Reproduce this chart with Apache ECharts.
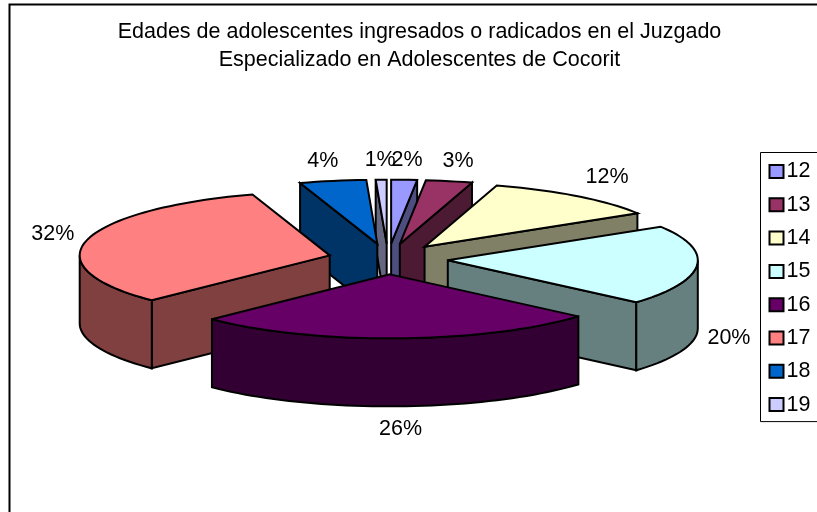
<!DOCTYPE html>
<html>
<head>
<meta charset="utf-8">
<style>html,body{margin:0;padding:0;background:#fff}#c{width:817px;height:512px}</style>
<script src="https://cdn.jsdelivr.net/npm/echarts@6/dist/echarts.min.js"></script>
</head>
<body>
<div id="c"></div>
<script>
var titleLines = ['Edades de adolescentes ingresados o radicados en el Juzgado', 'Especializado en Adolescentes de Cocorit'];
var categories = ['12', '13', '14', '15', '16', '17', '18', '19'];
var values = [1.66, 3, 11.55, 20.2, 26.2, 32.4, 4.3, 0.7];

var topColors = ['#9999FF', '#993366', '#FFFFCC', '#CCFFFF', '#660066', '#FF8080', '#0066CC', '#CCCCFF'];
var sideColors = ['#4D4D80', '#4D1A33', '#808066', '#668080', '#330033', '#804040', '#003366', '#666680'];

// layout of the tilted, exploded pie
var pie = { cx: 388, cy: 259, rx: 250, ry: 64, depth: 68, explode: 0.24 };
// label nudges away from each slice's rim midpoint
var labelNudge = [[3, -20], [9, -20], [30, -19], [32, 5], [3, 23], [-34, -6], [-10, -20], [-1, -20]];
var FONT = '"Liberation Sans", Arial, sans-serif';
var TEXT_SIZE = 21.5;

var total = values.reduce(function (a, b) { return a + b; }, 0);
var starts = [];
values.reduce(function (acc, v, i) { starts[i] = acc; return acc + v; }, 0);
function deg(v) { return v / total * 360; }
function rad(d) { return d * Math.PI / 180; }

function arcPts(ax, ay, a0, a1, dy) {
  var n = Math.max(2, Math.ceil((a1 - a0) / 2)), pts = [];
  for (var i = 0; i <= n; i++) {
    var a = rad(a0 + (a1 - a0) * i / n);
    pts.push([ax + pie.rx * Math.sin(a), ay - pie.ry * Math.cos(a) + dy]);
  }
  return pts;
}
function face(points, fill) {
  return { type: 'polygon', shape: { points: points },
    style: { fill: fill, stroke: '#000', lineWidth: 2, lineJoin: 'miter', miterLimit: 4 } };
}
function sliceGroup(i) {
  var a0 = deg(starts[i]), a1 = deg(starts[i] + values[i]), mid = rad((a0 + a1) / 2);
  var ax = pie.cx + pie.explode * pie.rx * Math.sin(mid);
  var ay = pie.cy - pie.explode * pie.ry * Math.cos(mid);
  var d = pie.depth, kids = [];
  function radial(a) {
    var p = arcPts(ax, ay, a, a, 0)[0];
    kids.push(face([[ax, ay], p, [p[0], p[1] + d], [ax, ay + d]], sideColors[i]));
  }
  if (Math.sin(rad(a0)) < -1e-6) radial(a0);
  if (Math.sin(rad(a1)) > 1e-6) radial(a1);
  var f0 = Math.max(a0, 90), f1 = Math.min(a1, 270);
  if (f1 > f0) {
    kids.push(face(arcPts(ax, ay, f0, f1, 0).concat(arcPts(ax, ay, f0, f1, d).reverse()), sideColors[i]));
  }
  kids.push(face([[ax, ay]].concat(arcPts(ax, ay, a0, a1, 0)), topColors[i]));
  var cm = Math.cos(mid);
  var lx = ax + pie.rx * Math.sin(mid) + labelNudge[i][0];
  var ly = ay - pie.ry * cm + (cm < 0 ? d : 0) + labelNudge[i][1];
  kids.push({ type: 'text', z2: 100, style: {
    x: lx, y: ly, text: Math.round(values[i] / total * 100) + '%', fill: '#000', align: 'center', verticalAlign: 'middle',
    font: TEXT_SIZE + 'px ' + FONT } });
  return { type: 'group', children: kids };
}

// paint order: farthest slice first
var order = categories.map(function (_, i) { return i; }).sort(function (p, q) {
  return Math.cos(rad(deg(starts[q] + values[q] / 2))) - Math.cos(rad(deg(starts[p] + values[p] / 2)));
});

var series = categories.map(function (name, i) {
  return {
    type: 'custom', name: name, coordinateSystem: 'none', silent: true,
    animation: false,
    itemStyle: { color: topColors[i] },
    data: [values[i]],
    renderItem: function () { return sliceGroup(i); }
  };
});
// series are created in paint order so later ones lie on top
var seriesOrdered = order.map(function (i) { return series[i]; });

var chart = echarts.init(document.getElementById('c'), null, { renderer: 'canvas' });
chart.setOption({
  animation: false,
  backgroundColor: '#fff',
  title: {
    text: titleLines.join('\n'), left: 414.5, top: 13.5, textAlign: 'center',
    textStyle: { fontFamily: FONT, fontSize: TEXT_SIZE, fontWeight: 'normal', color: '#000', lineHeight: 28 }
  },
  legend: {
    orient: 'vertical', left: 760.5, top: 152.5, data: categories, selectedMode: false,
    icon: 'rect', itemWidth: 14, itemHeight: 13, itemGap: 11.3,
    padding: [8, 60, 6, 8],
    backgroundColor: '#fff', borderColor: '#000', borderWidth: 1,
    itemStyle: { borderColor: '#000', borderWidth: 2 },
    textStyle: { fontFamily: FONT, fontSize: TEXT_SIZE, color: '#000', padding: [0, 0, 0, -2], height: 18, lineHeight: 18 }
  },
  graphic: [{
    type: 'rect', z: -1, silent: true,
    shape: { x: 9.5, y: 4.5, width: 900, height: 600 },
    style: { fill: 'none', stroke: '#000', lineWidth: 2 }
  }],
  series: seriesOrdered
});
</script>
</body>
</html>
